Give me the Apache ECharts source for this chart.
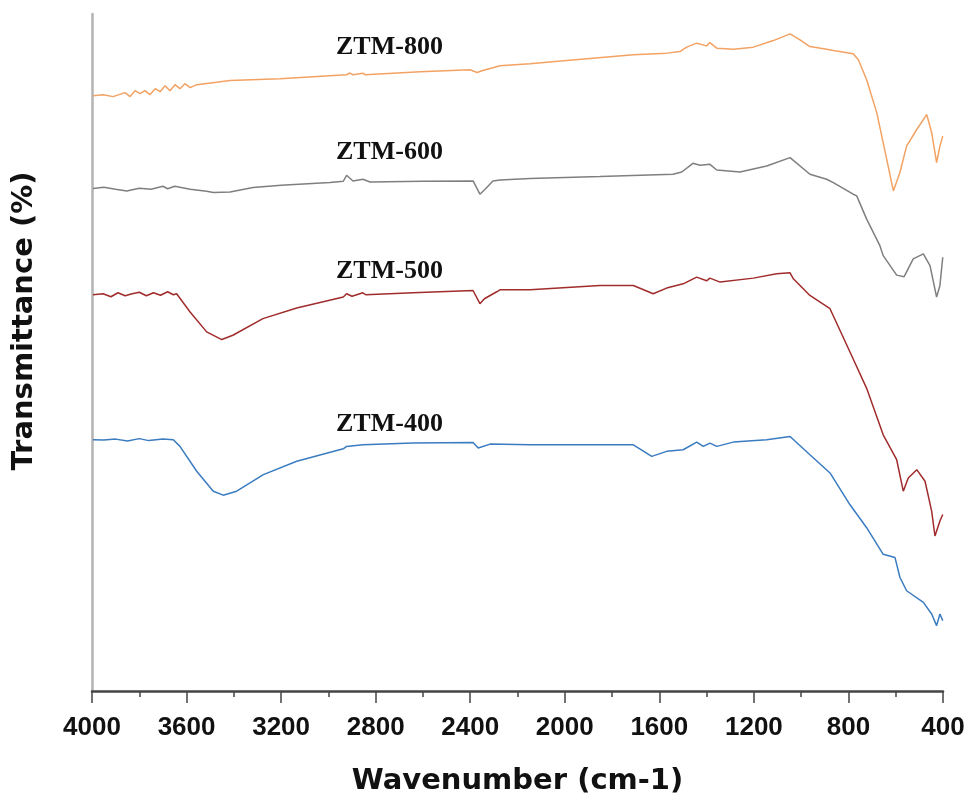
<!DOCTYPE html>
<html>
<head>
<meta charset="utf-8">
<script src="https://cdn.jsdelivr.net/npm/echarts@6/dist/echarts.min.js"></script>
<style>
  html, body { margin: 0; padding: 0; background: #fff; }
  #chart { width: 968px; height: 801px; }
</style>
</head>
<body>
<div id="chart"></div>
<script>
'use strict';
// wavenumber (cm-1) and offset transmittance
var wn800 = [3996,3953,3911,3860,3839,3818,3797,3776,3755,3733,3712,3691,3670,3649,3628,3607,3585,3556,3416,3205,2923,2909,2896,2854,2845,2612,2401,2371,2350,2274,2147,1992,1710,1569,1513,1484,1442,1400,1386,1357,1287,1202,1118,1047,1005,963,892,864,780,758,723,680,638,610,582,554,511,469,448,427,413,401];
var tr800 = [59.8,59.9,59.7,60.1,59.7,60.3,60.0,60.3,59.9,60.5,60.2,60.8,60.3,60.9,60.5,61.0,60.6,60.9,61.33,61.5,61.9,62.07,61.9,62.05,61.9,62.2,62.4,62.13,62.3,62.8,63.0,63.33,63.9,64.07,64.23,64.67,65.07,64.8,65.13,64.57,64.47,64.67,65.33,66.0,65.4,64.73,64.47,64.33,64.0,63.4,61.4,58.07,53.4,50.23,52.1,54.73,56.4,57.9,56.1,53.07,54.73,55.73];

var wn600 = [3996,3950,3900,3853,3800,3750,3700,3680,3650,3642,3585,3515,3487,3416,3319,3200,2993,2937,2923,2896,2854,2824,2600,2388,2359,2337,2304,2274,2147,1851,1542,1505,1458,1428,1386,1357,1259,1146,1047,963,892,864,780,765,723,667,653,596,565,526,483,455,427,413,401];
var tr600 = [50.47,50.6,50.4,50.23,50.5,50.4,50.7,50.45,50.7,50.57,50.4,50.2,50.07,50.13,50.57,50.8,51.07,51.2,51.8,51.23,51.4,51.13,51.2,51.23,49.9,50.4,51.23,51.33,51.47,51.67,51.9,52.13,53.0,52.8,52.9,52.33,52.13,52.73,53.57,51.9,51.4,51.07,49.9,49.73,47.4,44.73,43.73,41.77,41.6,43.4,43.9,42.73,39.57,40.73,43.57];

var wn500 = [3996,3953,3920,3890,3860,3830,3800,3770,3740,3710,3680,3656,3642,3585,3515,3451,3404,3277,3134,2937,2923,2900,2854,2842,2642,2388,2359,2340,2288,2274,2147,1851,1710,1626,1569,1499,1442,1400,1386,1343,1202,1104,1047,1033,963,878,794,723,653,596,568,547,511,476,448,434,413,401];
var tr500 = [39.8,39.9,39.6,40.0,39.7,39.9,40.05,39.7,40.0,39.75,40.1,39.8,39.9,38.07,36.07,35.3,35.73,37.4,38.47,39.57,39.9,39.65,40.0,39.8,40.0,40.23,38.9,39.4,40.1,40.3,40.3,40.73,40.73,39.9,40.47,40.9,41.57,41.2,41.47,41.07,41.47,41.9,42.0,41.4,39.73,38.4,34.07,30.4,25.73,23.23,20.07,21.4,22.23,21.07,18.07,15.57,17.07,17.73];

var wn400 = [3996,3950,3900,3850,3800,3760,3700,3656,3628,3557,3487,3445,3388,3275,3134,2937,2923,2854,2642,2388,2366,2316,2147,1710,1632,1569,1499,1442,1414,1386,1357,1287,1146,1047,963,878,794,723,653,603,582,554,483,448,427,413,401];
var tr400 = [25.23,25.2,25.3,25.1,25.35,25.15,25.3,25.23,24.57,22.07,20.07,19.67,20.07,21.73,23.07,24.33,24.57,24.73,24.9,24.97,24.4,24.8,24.73,24.73,23.57,24.07,24.23,25.0,24.57,24.9,24.57,25.0,25.23,25.57,23.73,21.9,18.73,16.4,13.73,13.4,11.4,10.07,8.9,7.73,6.57,7.73,7.07];

var seriesNames = ['ZTM-800', 'ZTM-600', 'ZTM-500', 'ZTM-400'];
var seriesColors = ['#f2a263', '#7f7f7f', '#a12c2c', '#3a7cc0'];

function pairs(xs, ys) {
    return xs.map(function (x, i) { return [x, ys[i]]; });
}

var allData = [pairs(wn800, tr800), pairs(wn600, tr600), pairs(wn500, tr500), pairs(wn400, tr400)];

var labelTops = [34, 139, 258, 411];

var myChart = echarts.init(document.getElementById('chart'), null, { renderer: 'canvas' });

var option = {
    animation: false,
    backgroundColor: '#ffffff',
    grid: { left: 92, right: 25, top: 14, bottom: 107 },
    xAxis: {
        type: 'value',
        min: 400,
        max: 4000,
        interval: 400,
        inverse: true,
        name: 'Wavenumber (cm-1)',
        nameLocation: 'middle',
        nameGap: 76,
        nameTextStyle: { fontFamily: 'DejaVu Sans', fontWeight: 'bold', fontSize: 29, color: '#111' },
        axisLine: { onZero: false, lineStyle: { color: '#444', width: 2.5 } },
        axisTick: { show: true, length: 12, lineStyle: { color: '#444', width: 1.5 } },
        minorTick: { show: true, splitNumber: 2, length: 6, lineStyle: { color: '#444', width: 1.5 } },
        axisLabel: {
            margin: 24, fontFamily: 'Liberation Sans', fontWeight: 'bold', fontSize: 26, color: '#111',
            formatter: function (v) { return String(v); }
        },
        splitLine: { show: false }
    },
    yAxis: {
        type: 'value',
        min: 0,
        max: 68,
        axisLine: { show: true, onZero: false, lineStyle: { color: '#b3b3b3', width: 2.5 } },
        axisTick: { show: false },
        axisLabel: { show: false },
        splitLine: { show: false }
    },
    series: allData.map(function (d, i) {
        return {
            name: seriesNames[i],
            type: 'line',
            data: d,
            showSymbol: false,
            symbol: 'none',
            lineStyle: { color: seriesColors[i], width: 1.5 },
            z: 3
        };
    }),
    graphic: seriesNames.map(function (n, i) {
        return {
            type: 'text',
            left: 336,
            top: labelTops[i],
            style: { text: n, fontFamily: 'Liberation Serif', fontWeight: 'bold', fontSize: 26, fill: '#111' }
        };
    }).concat([{
        type: 'text',
        x: 24,
        y: 321,
        rotation: Math.PI / 2,
        style: {
            text: 'Transmittance (%)',
            fontFamily: 'DejaVu Sans', fontWeight: 'bold', fontSize: 29, fill: '#111',
            align: 'center', verticalAlign: 'middle'
        }
    }])
};

myChart.setOption(option);
</script>
</body>
</html>
